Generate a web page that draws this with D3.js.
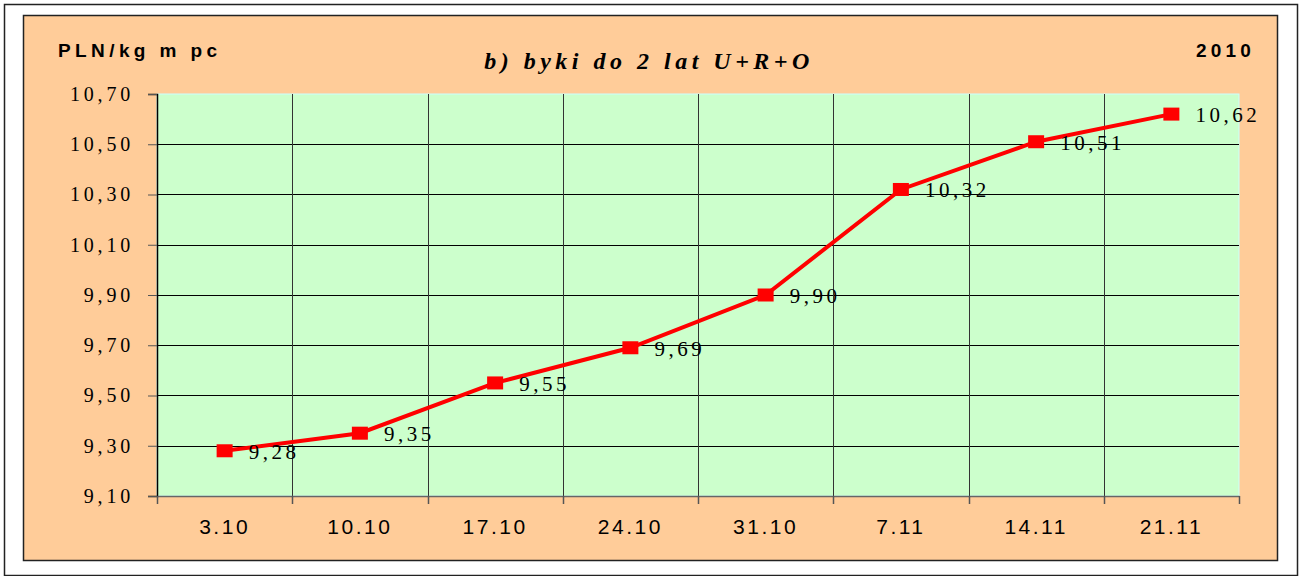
<!DOCTYPE html>
<html>
<head>
<meta charset="utf-8">
<script src="https://cdn.jsdelivr.net/npm/d3@7"></script>
<style>
  body { margin: 0; background: #ffffff; }
</style>
</head>
<body>
<div id="chart"></div>
<script>
// dane
const categories = ["3.10", "10.10", "17.10", "24.10", "31.10", "7.11", "14.11", "21.11"];
const prices = [9.28, 9.35, 9.55, 9.69, 9.90, 10.32, 10.51, 10.62];
const yTicks = [9.10, 9.30, 9.50, 9.70, 9.90, 10.10, 10.30, 10.50, 10.70];

const fmt = v => v.toFixed(2).replace(".", ",");

const W = 1300, H = 576;
const margin = { top: 94, right: 61, bottom: 80, left: 157 },
    width = W - margin.left - margin.right,
    height = 496 - margin.top;

const root = d3.select("#chart")
    .append("svg")
    .attr("width", W)
    .attr("height", H);

// ramka zewnetrzna
root.append("rect")
    .attr("x", 4.5).attr("y", 4.5)
    .attr("width", W - 7).attr("height", H - 5)
    .attr("fill", "#ffffff")
    .attr("stroke", "#222").attr("stroke-width", 1.5);

// panel
root.append("rect")
    .attr("x", 23.5).attr("y", 15.5)
    .attr("width", 1254).attr("height", 545)
    .attr("fill", "#ffcc99")
    .attr("stroke", "#222").attr("stroke-width", 1.5);

const svg = root.append("g")
    .attr("transform", `translate(${margin.left},${margin.top})`);

const x = d3.scaleBand()
    .domain(categories)
    .range([0, width])
    .padding(0);

const y = d3.scaleLinear()
    .domain([9.10, 10.70])
    .range([height, 0]);

// tlo wykresu
svg.append("rect")
    .attr("width", width).attr("height", height)
    .attr("fill", "#ccffcc")
    .attr("stroke", "#ccffff").attr("stroke-width", 1);

// siatka
svg.append("g")
    .selectAll("line")
    .data(yTicks.slice(1, -1))
    .enter()
    .append("line")
    .attr("x1", 0).attr("x2", width)
    .attr("y1", d => Math.round(y(d)) + 0.5)
    .attr("y2", d => Math.round(y(d)) + 0.5)
    .attr("stroke", "#000").attr("stroke-width", 1);

svg.append("g")
    .selectAll("line")
    .data(categories.slice(1))
    .enter()
    .append("line")
    .attr("x1", d => Math.round(x(d)) + 0.5)
    .attr("x2", d => Math.round(x(d)) + 0.5)
    .attr("y1", 0).attr("y2", height)
    .attr("stroke", "#333").attr("stroke-width", 1);

// os Y
const yAxis = svg.append("g")
    .call(d3.axisLeft(y).tickValues(yTicks).tickSize(9).tickFormat(fmt).tickPadding(14));
yAxis.select(".domain").attr("stroke", "#000").attr("stroke-width", 1.5);
yAxis.selectAll(".tick line").attr("stroke", "#555");
yAxis.selectAll("text")
    .style("font-family", "'Liberation Serif', 'Times New Roman', serif")
    .style("font-size", "20px")
    .style("letter-spacing", "3.8px")
    .attr("fill", "#000");

// os X
const xAxis = svg.append("g")
    .attr("transform", `translate(0,${height})`)
    .call(d3.axisBottom(x).tickSize(0).tickPadding(23));
xAxis.select(".domain").attr("stroke", "#666").attr("stroke-width", 1.5);
xAxis.selectAll("text")
    .style("font-family", "'Liberation Sans', Arial, sans-serif")
    .style("font-size", "21px")
    .style("letter-spacing", "2.5px")
    .attr("fill", "#000");

svg.append("g")
    .selectAll("line")
    .data(categories.concat(["end"]))
    .enter()
    .append("line")
    .attr("x1", (d, i) => Math.round(i * x.bandwidth()) + 0.5)
    .attr("x2", (d, i) => Math.round(i * x.bandwidth()) + 0.5)
    .attr("y1", height).attr("y2", height + 8)
    .attr("stroke", "#555").attr("stroke-width", 1.5);

// linia
const line = d3.line()
    .x((d, i) => x(categories[i]) + x.bandwidth() / 2)
    .y(d => y(d));

svg.append("path")
    .datum(prices)
    .attr("d", line)
    .attr("fill", "none")
    .attr("stroke", "#ff0000")
    .attr("stroke-width", 4);

svg.selectAll("rect.marker")
    .data(prices)
    .enter()
    .append("rect")
    .attr("class", "marker")
    .attr("x", (d, i) => x(categories[i]) + x.bandwidth() / 2 - 8)
    .attr("y", d => y(d) - 6.5)
    .attr("width", 16)
    .attr("height", 13)
    .attr("fill", "#ff0000");

// etykiety
svg.selectAll("text.label")
    .data(prices)
    .enter()
    .append("text")
    .attr("class", "label")
    .attr("x", (d, i) => x(categories[i]) + x.bandwidth() / 2 + 24)
    .attr("y", d => y(d) + 8)
    .style("font-family", "'Liberation Serif', 'Times New Roman', serif")
    .style("font-size", "21px")
    .style("letter-spacing", "3.5px")
    .attr("fill", "#000")
    .text(fmt);

// tytuly
root.append("text")
    .attr("x", 58).attr("y", 57)
    .style("font-family", "'Liberation Sans', Arial, sans-serif")
    .style("font-weight", "bold")
    .style("font-size", "19px")
    .style("letter-spacing", "4.4px")
    .text("PLN/kg m pc");

root.append("text")
    .attr("x", 1255).attr("y", 57)
    .attr("text-anchor", "end")
    .style("font-family", "'Liberation Sans', Arial, sans-serif")
    .style("font-weight", "bold")
    .style("font-size", "19px")
    .style("letter-spacing", "4.2px")
    .text("2010");

root.append("text")
    .attr("x", 649).attr("y", 69)
    .attr("text-anchor", "middle")
    .style("font-family", "'Liberation Serif', 'Times New Roman', serif")
    .style("font-weight", "bold")
    .style("font-style", "italic")
    .style("font-size", "24px")
    .style("letter-spacing", "4.5px")
    .text("b) byki do 2 lat U+R+O");
</script>
</body>
</html>
